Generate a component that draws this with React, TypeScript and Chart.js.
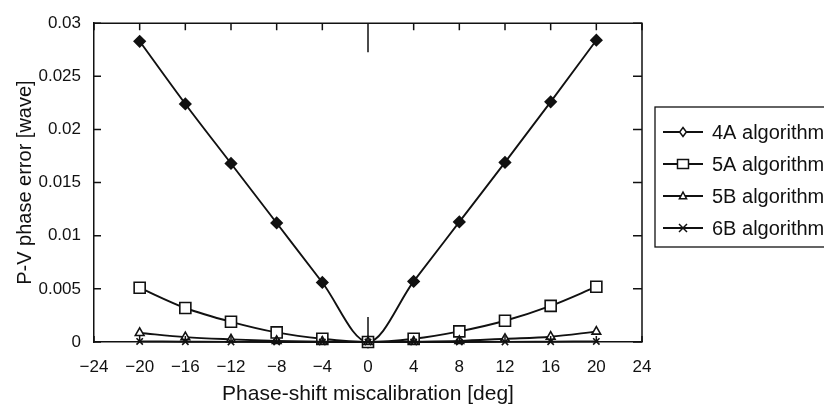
import React, { useEffect, useRef } from "react";
import { Chart, registerables } from "chart.js";

Chart.register(...registerables);

// ---- data ----
const phaseShift = [-20, -16, -12, -8, -4, 0, 4, 8, 12, 16, 20];
const alg4A = [0.0283, 0.0224, 0.0168, 0.0112, 0.0056, 0, 0.0057, 0.0113, 0.0169, 0.0226, 0.0284];
const alg5A = [0.0051, 0.0032, 0.0019, 0.0009, 0.0003, 0, 0.0003, 0.001, 0.002, 0.0034, 0.0052];
const alg5B = [0.00085, 0.00046, 0.00025, 0.0001, 0.00003, 0, 0.00003, 0.0001, 0.0003, 0.0005, 0.00098];
const alg6B = [0.00005, 0.00003, 0.00001, 0, 0, 0, 0, 0, 0.00001, 0.00003, 0.00005];
const seriesNames = ["4A algorithm", "5A algorithm", "5B algorithm", "6B algorithm"];
const xTickValues = [-24, -20, -16, -12, -8, -4, 0, 4, 8, 12, 16, 20, 24];
const yTickValues = [0, 0.005, 0.01, 0.015, 0.02, 0.025, 0.03];
const xTitle = "Phase-shift miscalibration [deg]";
const yTitle = "P-V phase error [wave]";

const INK = "#111111";
const FONT = "'Liberation Sans', Arial, Helvetica, sans-serif";

const fmtX = (v: number) => (v < 0 ? "\u2212" + Math.abs(v) : String(v));
const fmtY = (v: number) => String(Number(v.toFixed(3)));

function drawMarker(ctx: CanvasRenderingContext2D, kind: string, x: number, y: number, r: number, filled: boolean) {
  ctx.save();
  ctx.beginPath();
  if (kind === "diamond") {
    ctx.moveTo(x, y - r);
    ctx.lineTo(x + r * 0.75, y);
    ctx.lineTo(x, y + r);
    ctx.lineTo(x - r * 0.75, y);
    ctx.closePath();
  } else if (kind === "square") {
    ctx.rect(x - r, y - r * 0.8, 2 * r, 1.6 * r);
  } else if (kind === "triangle") {
    ctx.moveTo(x, y - r);
    ctx.lineTo(x + r * 0.9, y + r * 0.7);
    ctx.lineTo(x - r * 0.9, y + r * 0.7);
    ctx.closePath();
  } else if (kind === "cross") {
    ctx.moveTo(x - r, y - r);
    ctx.lineTo(x + r, y + r);
    ctx.moveTo(x + r, y - r);
    ctx.lineTo(x - r, y + r);
  }
  if (kind !== "cross") {
    ctx.fillStyle = filled ? INK : "#ffffff";
    ctx.fill();
  }
  ctx.strokeStyle = INK;
  ctx.lineWidth = 1.5;
  ctx.stroke();
  ctx.restore();
}

const framePlugin = {
  id: "frameAndLegend",
  afterDraw(chart: any) {
    const { ctx, chartArea } = chart;
    const { left, right, top, bottom } = chartArea;
    const xs = chart.scales.x;
    const ys = chart.scales.y;
    ctx.save();
    ctx.strokeStyle = INK;
    ctx.lineWidth = 1.5;
    // top & right border
    ctx.beginPath();
    ctx.moveTo(left, top);
    ctx.lineTo(right, top);
    ctx.lineTo(right, bottom);
    ctx.stroke();
    // inward ticks
    ctx.beginPath();
    xTickValues.forEach((v) => {
      const px = xs.getPixelForValue(v);
      const len = v === 0 ? 29 : 7;
      ctx.moveTo(px, top);
      ctx.lineTo(px, top + len);
      const blen = v === 0 ? 25 : 6;
      ctx.moveTo(px, bottom);
      ctx.lineTo(px, bottom - blen);
    });
    yTickValues.forEach((v) => {
      const py = ys.getPixelForValue(v);
      ctx.moveTo(left, py);
      ctx.lineTo(left + 7, py);
      ctx.moveTo(right, py);
      ctx.lineTo(right - 9, py);
    });
    ctx.stroke();

    // legend
    const boxL = 655, boxT = 107, boxB = 247;
    ctx.lineWidth = 1.3;
    ctx.strokeRect(boxL, boxT, 824 - boxL + 10, boxB - boxT);
    const kinds = ["diamond", "square", "triangle", "cross"];
    const sizes = [4.5, 5.5, 4, 4];
    ctx.font = "20px " + FONT;
    ctx.textBaseline = "middle";
    ctx.textAlign = "left";
    ctx.fillStyle = INK;
    seriesNames.forEach((name, i) => {
      const y = 132 + i * 32;
      ctx.beginPath();
      ctx.lineWidth = 1.8;
      ctx.moveTo(663, y);
      ctx.lineTo(703, y);
      ctx.stroke();
      drawMarker(ctx, kinds[i], 683, y, sizes[i], false);
      ctx.fillStyle = INK;
      ctx.fillText(name, 712, y + 1);
    });
    ctx.restore();
  },
};

export default function App() {
  const ref = useRef<HTMLCanvasElement>(null);
  useEffect(() => {
    const mk = (vals: number[]) => phaseShift.map((x, i) => ({ x, y: vals[i] }));
    const common = {
      borderColor: INK,
      borderWidth: 1.9,
      cubicInterpolationMode: "monotone" as const,
      clip: false as const,
      pointBorderColor: INK,
      pointBorderWidth: 1.6,
    };
    const chart = new Chart(ref.current!, {
      type: "line",
      data: {
        datasets: [
          { ...common, label: seriesNames[3], data: mk(alg6B), pointStyle: "crossRot", pointRadius: 4.5, pointBackgroundColor: INK },
          { ...common, label: seriesNames[2], data: mk(alg5B), pointStyle: "triangle", pointRadius: 5, pointBackgroundColor: "#ffffff" },
          { ...common, label: seriesNames[1], data: mk(alg5A), pointStyle: "rect", pointRadius: 7.8, pointBackgroundColor: "#ffffff" },
          { ...common, label: seriesNames[0], data: mk(alg4A), pointStyle: "rectRot", pointRadius: 5.5, pointBackgroundColor: INK },
        ],
      },
      options: {
        responsive: false,
        animation: false,
        devicePixelRatio: 1,
        layout: { padding: { left: 0, top: 14, right: 824 - 642, bottom: 0 } },
        plugins: { legend: { display: false }, tooltip: { enabled: false } },
        scales: {
          x: {
            type: "linear",
            min: -24,
            max: 24,
            afterFit: (s: any) => { s.height = 405 - 342; },
            afterBuildTicks: (s: any) => { s.ticks = xTickValues.map((v) => ({ value: v })); },
            ticks: {
              autoSkip: false,
              maxRotation: 0,
              padding: 15,
              color: INK,
              font: { family: FONT, size: 17 },
              callback: (v: any) => fmtX(Number(v)),
            },
            grid: { display: false, drawTicks: false },
            border: { display: true, color: INK, width: 1.5 },
            title: { display: true, text: xTitle, color: INK, font: { family: FONT, size: 21 }, padding: { top: 0, bottom: -2 } },
          },
          y: {
            type: "linear",
            min: 0,
            max: 0.03,
            afterFit: (s: any) => { s.width = 94; },
            afterBuildTicks: (s: any) => { s.ticks = yTickValues.map((v) => ({ value: v })); },
            ticks: {
              padding: 13,
              color: INK,
              font: { family: FONT, size: 17 },
              callback: (v: any) => fmtY(Number(v)),
            },
            grid: { display: false, drawTicks: false },
            border: { display: true, color: INK, width: 1.5 },
            title: { display: true, text: yTitle, color: INK, font: { family: FONT, size: 20 }, padding: { top: 13, bottom: 0 } },
          },
        },
      },
      plugins: [framePlugin],
    });
    return () => chart.destroy();
  }, []);
  return (
    <div style={{ position: "fixed", left: 0, top: 0, width: 824, height: 405, background: "#ffffff", overflow: "hidden" }}>
      <canvas ref={ref} width={824} height={405} style={{ display: "block", width: 824, height: 405 }} />
    </div>
  );
}
